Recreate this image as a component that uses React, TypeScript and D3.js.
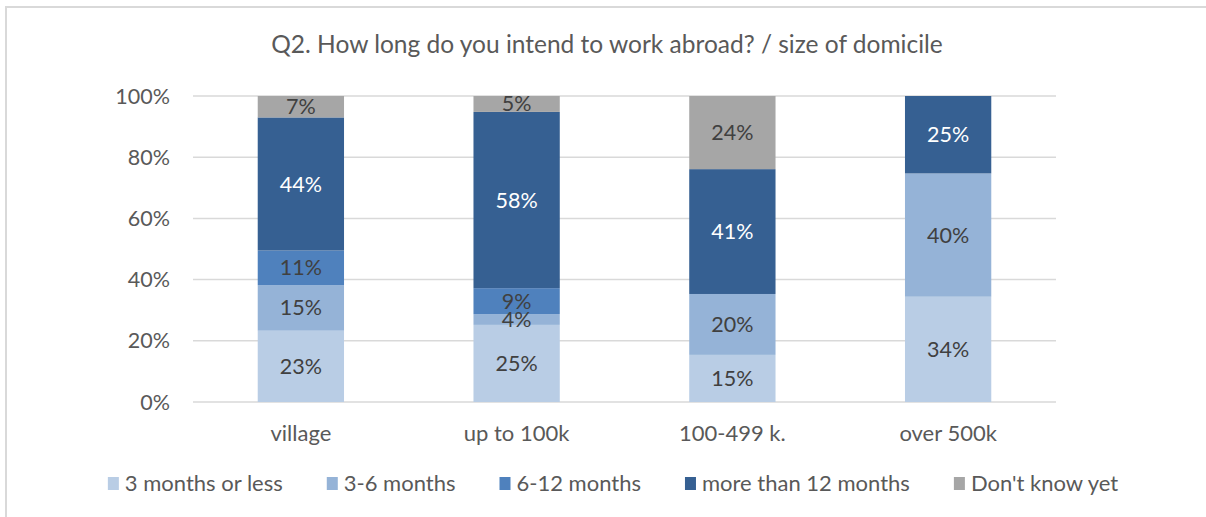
import * as React from "react";
import * as d3 from "d3";

const categories = ["village", "up to 100k", "100-499 k.", "over 500k"];
const seriesNames = ["3 months or less", "3-6 months", "6-12 months", "more than 12 months", "Don't know yet"];
const upTo3 = [23.3, 25.2, 15.4, 34.4];
const from3to6 = [14.9, 3.5, 19.9, 40.3];
const from6to12 = [11.3, 8.5, 0, 0];
const over12 = [43.5, 57.6, 40.8, 25.3];
const dontKnow = [7.0, 5.2, 23.9, 0];
const yTicks = [0, 20, 40, 60, 80, 100];

const colors = ["#b9cde5", "#95b3d7", "#4f81bd", "#366092", "#a6a6a6"];
const labelColors = ["#404040", "#404040", "#404040", "#ffffff", "#404040"];
const FONT = "Lato, 'Open Sans', sans-serif";

const W = 1206;
const H = 517;

export default function App() {
  const ref = React.useRef<SVGSVGElement>(null);

  React.useEffect(() => {
    const svg = d3.select(ref.current);
    svg.selectAll("*").remove();

    const rows = categories.map((c, i) => ({
      cat: c,
      s0: upTo3[i],
      s1: from3to6[i],
      s2: from6to12[i],
      s3: over12[i],
      s4: dontKnow[i],
    }));
    const keys = ["s0", "s1", "s2", "s3", "s4"];
    const stacked = d3.stack<any>().keys(keys)(rows);

    const x = d3.scaleBand().domain(categories).range([193, 1056]).paddingInner(0.6).paddingOuter(0.3);
    const y = d3.scaleLinear().domain([0, 100]).range([402, 96]);

    // chart frame
    svg.append("rect").attr("x", 6).attr("y", 7).attr("width", W).attr("height", H)
      .attr("fill", "white").attr("stroke", "#d9d9d9").attr("stroke-width", 2);

    svg.append("text").attr("x", 607).attr("y", 53).attr("text-anchor", "middle")
      .attr("font-family", FONT).attr("font-size", 24.5).attr("fill", "#595959")
      .text("Q2. How long do you intend to work abroad? / size of domicile");

    const grid = svg.append("g");
    yTicks.forEach((t) => {
      grid.append("line").attr("x1", 193).attr("x2", 1056).attr("y1", y(t)).attr("y2", y(t))
        .attr("stroke", "#d9d9d9").attr("stroke-width", 1.5);
      grid.append("text").attr("x", 170).attr("y", y(t)).attr("dy", "0.35em").attr("text-anchor", "end")
        .attr("font-family", FONT).attr("font-size", 21.5).attr("fill", "#595959").text(t + "%");
    });

    stacked.forEach((layer, si) => {
      const g = svg.append("g");
      layer.forEach((d: any) => {
        const v = d[1] - d[0];
        if (v <= 0) return;
        const cx = x(d.data.cat)!;
        g.append("rect").attr("x", cx).attr("width", x.bandwidth())
          .attr("y", y(d[1])).attr("height", y(d[0]) - y(d[1])).attr("fill", colors[si]);
      });
    });
    stacked.forEach((layer, si) => {
      layer.forEach((d: any) => {
        const v = d[1] - d[0];
        if (v <= 0) return;
        svg.append("text").attr("x", x(d.data.cat)! + x.bandwidth() / 2)
          .attr("y", (y(d[0]) + y(d[1])) / 2).attr("dy", "0.35em").attr("text-anchor", "middle")
          .attr("font-family", FONT).attr("font-size", 21.5).attr("fill", labelColors[si])
          .text(d3.format(".0f")(v) + "%");
      });
    });

    categories.forEach((c) => {
      svg.append("text").attr("x", x(c)! + x.bandwidth() / 2).attr("y", 433).attr("dy", "0.35em")
        .attr("text-anchor", "middle").attr("font-family", FONT).attr("font-size", 22)
        .attr("fill", "#595959").text(c);
    });

    // legend, measured and centered
    const leg = svg.append("g");
    const items = seriesNames.map((n, i) => {
      const g = leg.append("g");
      g.append("rect").attr("x", 0).attr("y", -6).attr("width", 11).attr("height", 13).attr("fill", colors[i]);
      const t = g.append("text").attr("x", 17).attr("dy", "0.35em").attr("font-family", FONT)
        .attr("font-size", 22).attr("fill", "#595959").text(n);
      const w = 17 + (t.node() as SVGTextElement).getComputedTextLength();
      return { g, w };
    });
    const gap = 44;
    const total = d3.sum(items, (d) => d.w) + gap * (items.length - 1);
    let cur = 613 - total / 2;
    items.forEach((it) => {
      it.g.attr("transform", `translate(${cur},483)`);
      cur += it.w + gap;
    });
  }, []);

  return (
    <svg ref={ref} width={W} height={H} style={{ position: "absolute", left: 0, top: 0, background: "white" }} />
  );
}
